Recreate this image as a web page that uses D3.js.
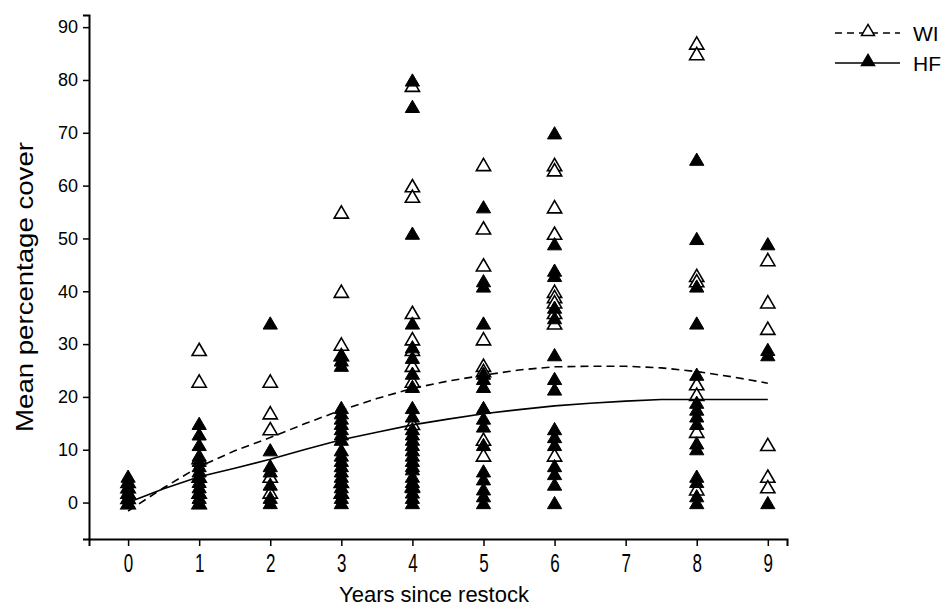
<!DOCTYPE html>
<html>
<head>
<meta charset="utf-8">
<script src="https://cdn.jsdelivr.net/npm/d3@7"></script>
<style>
  html, body { margin: 0; padding: 0; background: #fff; }
  svg { display: block; }
  .tick text { fill: #000; }
</style>
</head>
<body>
<svg id="chart" width="946" height="610"></svg>
<script>
// Years sampled and per-year mean percentage cover for each treatment
const years = [0, 1, 2, 3, 4, 5, 6, 8, 9];

const wiCover = [
  [0, 1, 2, 3, 4],
  [29, 23, 8.5, 5, 2, 0],
  [23, 17, 14, 5, 2],
  [55, 40, 30, 28, 4, 2],
  [79, 60, 58, 36, 31, 29, 26, 23, 15, 3.2],
  [64, 52, 45, 31, 26, 25, 12, 9],
  [64, 63, 56, 51, 40, 39, 38, 36, 34, 9],
  [87, 85, 43, 42, 22.5, 20.5, 13.5, 2.6],
  [46, 38, 33, 11, 5, 3]
];

const hfCover = [
  [0, 1, 2, 3, 4, 5],
  [15, 13, 11, 9, 8, 7, 6, 5, 4, 3, 2, 1, 0],
  [34, 10, 7, 6, 3.5, 1, 0],
  [28, 27, 26, 18, 17, 16, 15, 14, 13, 12, 10, 9, 8, 7, 6, 5, 4, 3, 2, 1, 0],
  [80, 75, 51, 34, 29.5, 27.5, 24.5, 22, 18, 16.4, 14, 13, 12, 11, 10, 9, 8, 7, 6.4, 5, 4, 3, 2, 1, 0],
  [56, 42, 41, 34, 24.5, 23.5, 22, 18, 16, 14.5, 11, 6, 4.5, 2.6, 1.3, 0],
  [70, 49, 44, 43, 37, 35, 28, 23.5, 21.5, 14, 12.5, 11, 7, 5.5, 3.5, 0],
  [65, 50, 41, 34, 24.3, 19, 17.7, 16.4, 15, 11.3, 10.2, 5, 4, 1.3, 0],
  [49, 29, 28, 0]
];

// Smoothed trends
const trendYears = [0, 0.5, 1, 1.5, 2, 2.5, 3, 3.5, 4, 4.5, 5, 5.5, 6, 6.5, 7, 7.5, 8, 8.5, 9];
const wiTrend = [-1.6, 2.8, 6.8, 9.8, 12.3, 15, 17.5, 19.7, 21.6, 23, 24.1, 25.1, 25.7, 25.8, 25.8, 25.5, 24.8, 23.8, 22.6];
const hfTrend = [0, 2.6, 4.9, 6.5, 8.2, 10.1, 11.9, 13.3, 14.7, 15.8, 16.8, 17.6, 18.3, 18.8, 19.2, 19.5, 19.5, 19.5, 19.5];

const xTicks = [0, 1, 2, 3, 4, 5, 6, 7, 8, 9];
const yTicks = [0, 10, 20, 30, 40, 50, 60, 70, 80, 90];

const svg = d3.select("#chart");

const x = d3.scaleLinear().domain([-0.55, 9.27]).range([89, 787]);
const y = d3.scaleLinear().domain([-6.9, 92.3]).range([539, 15]);

// Triangle marker whose bounding box is centred on the point
const tri = {
  draw(ctx, size) {
    const w = Math.sqrt(size) * 0.75, h = w * 0.86;
    ctx.moveTo(0, -h / 2);
    ctx.lineTo(w / 2, h / 2);
    ctx.lineTo(-w / 2, h / 2);
    ctx.closePath();
  }
};
const triPath = d3.symbol().type(tri).size(360)();
const legendTri = d3.symbol().type(tri).size(300)();

// Axes
const xAxis = svg.append("g")
  .attr("transform", `translate(0,${y.range()[0]})`)
  .call(d3.axisBottom(x).tickValues(xTicks).tickFormat(d3.format("d")).tickSizeOuter(0).tickSize(7).tickPadding(0));
// tall, condensed digits on the year axis
xAxis.selectAll(".tick text")
  .attr("dy", null)
  .attr("y", 33)
  .style("font-family", "'Liberation Sans', Arial, sans-serif")
  .style("font-size", "25px")
  .attr("transform", "scale(0.68,1)");

const yAxis = svg.append("g")
  .attr("transform", `translate(${x.range()[0]},0)`)
  .call(d3.axisLeft(y).tickValues(yTicks).tickFormat(d3.format("d")).tickSizeOuter(0).tickSize(6).tickPadding(5));
yAxis.selectAll("text")
  .style("font-family", "'Liberation Sans', Arial, sans-serif")
  .style("font-size", "18px");

svg.selectAll(".domain").attr("stroke", "#000").attr("stroke-width", 2);
svg.selectAll(".tick line").attr("stroke", "#000").attr("stroke-width", 1.5);

// Axis titles
svg.append("text")
  .attr("x", 434).attr("y", 602)
  .attr("text-anchor", "middle")
  .attr("font-family", "'Liberation Sans', Arial, sans-serif")
  .attr("font-size", 22)
  .text("Years since restock");

svg.append("text")
  .attr("transform", "translate(33,287) rotate(-90) scale(1.2,1)")
  .attr("text-anchor", "middle")
  .attr("font-family", "'Liberation Sans', Arial, sans-serif")
  .attr("font-size", 23)
  .text("Mean percentage cover");

// Points
const flatten = (arr) => arr.flatMap((vals, i) => vals.map(v => ({ year: years[i], v })));

svg.append("g").selectAll("path")
  .data(flatten(wiCover))
  .join("path")
  .attr("d", triPath)
  .attr("transform", d => `translate(${x(d.year)},${y(d.v)})`)
  .attr("fill", "#fff")
  .attr("stroke", "#000")
  .attr("stroke-width", 1.6);

svg.append("g").selectAll("path")
  .data(flatten(hfCover))
  .join("path")
  .attr("d", triPath)
  .attr("transform", d => `translate(${x(d.year)},${y(d.v)})`)
  .attr("fill", "#000")
  .attr("stroke", "#000")
  .attr("stroke-width", 1);

// Trend lines
const line = d3.line().x(d => x(d[0])).y(d => y(d[1]));
svg.append("path")
  .datum(trendYears.map((t, i) => [t, wiTrend[i]]))
  .attr("d", line)
  .attr("fill", "none")
  .attr("stroke", "#000")
  .attr("stroke-width", 1.6)
  .attr("stroke-dasharray", "8,5");

svg.append("path")
  .datum(trendYears.map((t, i) => [t, hfTrend[i]]))
  .attr("d", line)
  .attr("fill", "none")
  .attr("stroke", "#000")
  .attr("stroke-width", 1.6);

// Legend
const legend = svg.append("g").attr("transform", "translate(835,0)");
const items = [
  { name: "WI", y: 33, dash: "7,5", fill: "#fff" },
  { name: "HF", y: 63, dash: null, fill: "#000" }
];
items.forEach(it => {
  legend.append("line")
    .attr("x1", 0).attr("x2", 65).attr("y1", it.y).attr("y2", it.y)
    .attr("stroke", "#000").attr("stroke-width", 1.6)
    .attr("stroke-dasharray", it.dash);
  legend.append("path")
    .attr("d", legendTri)
    .attr("transform", `translate(33,${it.y - 3})`)
    .attr("fill", it.fill).attr("stroke", "#000").attr("stroke-width", 1.5);
  legend.append("text")
    .attr("x", 78).attr("y", it.y + 8)
    .attr("font-family", "'Liberation Sans', Arial, sans-serif")
    .attr("font-size", 21)
    .text(it.name);
});
</script>
</body>
</html>
